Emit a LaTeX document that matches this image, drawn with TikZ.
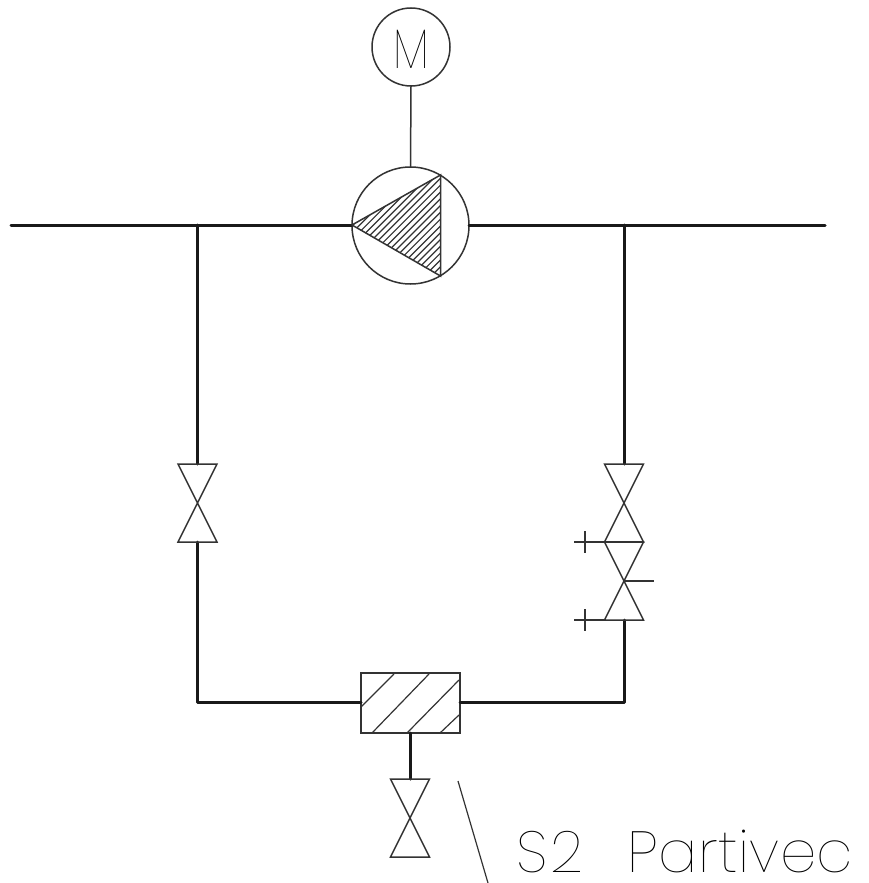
\documentclass[tikz,border=0pt]{standalone}
\usepackage{fontspec}
\setmainfont{Poppins Thin}
\newfontfamily\wideface[LetterSpace=6]{Poppins Thin}
\newfontfamily\wordface[LetterSpace=0.8]{Poppins Thin}
\tikzset{
  x=1pt,y=-1pt,
  pipe/.style={line width=3pt,line cap=round,line join=round,color=black!90},
  thin line/.style={line width=1.5pt,color=black!80,line join=miter},
  fine/.style={line width=1.2pt,color=black!80},
  sym/.style={draw=black!80,line width=1.5pt,inner sep=0pt,outer sep=0pt,fill=white},
}
\newcommand{\valveat}[1]{\draw[thin line] (#1)+(-19.5,-39) -- +(19.5,-39) -- +(-19.5,39) -- +(19.5,39) -- cycle;}
\begin{document}
\begin{tikzpicture}
\useasboundingbox (0,0) rectangle (869,883);
\fill[white] (0,0) rectangle (869,883);
% anchors
\coordinate (Lend) at (11,225);
\coordinate (Rend) at (825,225);
\coordinate (TL) at (197.5,225);
\coordinate (TR) at (624,225);
\coordinate (VL) at (197.5,503);
\coordinate (VLt) at (197.5,464);
\coordinate (VLb) at (197.5,542);
\coordinate (BL) at (197.5,702);
\coordinate (BR) at (624,702);
\coordinate (VRt) at (624,464);
\coordinate (VRa) at (624,503);
\coordinate (VRb) at (624,581);
\coordinate (VRe) at (624,620);
\coordinate (VB) at (410,818);
\coordinate (VBt) at (410,779);
\node[sym,circle,minimum size=78pt] (motor) at (411,47) {};
\node[sym,circle,minimum size=117pt] (pump) at (410.5,225.5) {};
\node[sym,rectangle,minimum width=99pt,minimum height=60pt] (filter) at (410.5,703) {};
% pipes
\draw[pipe] (Lend) -- (pump.west |- Lend);
\draw[pipe] (pump.east |- Rend) -- (Rend);
\draw[pipe] (TL) -- (VLt);
\draw[pipe] (VLb) -- (BL) -- (filter.west |- BL);
\draw[pipe] (TR) -- (VRt);
\draw[pipe] (VRe) -- (BR) -- (filter.east |- BR);
\draw[pipe] (filter.south -| VB) -- (VBt);
\draw[thin line] (motor.south) -- (pump.north);
% pump triangle
\coordinate (Ta) at (352,225);
\coordinate (Tb) at (440.5,175);
\coordinate (Tc) at (440.5,276);
\begin{scope}
\clip (Ta) -- (Tb) -- (Tc) -- cycle;
\foreach \k in {0,6.8,...,200}{
  \draw[fine] (340,{170+\k}) -- (460,{170+\k-120});
}
\end{scope}
\draw[thin line] (Ta) -- (Tb) -- (Tc) -- cycle;
% filter hatch
\draw[fine] (361,707) -- (394,674);
\draw[fine] (372,733) -- (429,674);
\draw[fine] (407,733) -- (459,680);
\draw[fine] (440,733) -- (459,715);
% valves
\valveat{VL}
\valveat{VRa}
\valveat{VRb}
\valveat{VB}
\draw[thin line] (604.5,542) -- (643.5,542);
% handwheels and lever
\coordinate (H1) at (604.5,542);
\coordinate (H2) at (604.5,620);
\draw[fine] (H1) -- +(-31,0);
\draw[fine] (H2) -- +(-31,0);
\draw[fine] (585,531) -- (585,553);
\draw[fine] (585,609) -- (585,631);
\draw[fine] (VRb) -- +(30,0);
% leader
\coordinate (Lt) at (458,781);
\coordinate (Lb) at (488,883);
\draw[fine] (Lt) -- (Lb);
% text
\node[inner sep=0pt,anchor=base] (mlabel) at (411,69) {\fontsize{56}{56}\selectfont\scalebox{0.8}[1]{M}};
\node[inner sep=0pt,anchor=base west] (title) at (516,872) {\smash{\fontsize{58}{58}\selectfont{\wideface S2}\hspace{44pt}{\wordface Partivec}}};
\end{tikzpicture}
\end{document}
